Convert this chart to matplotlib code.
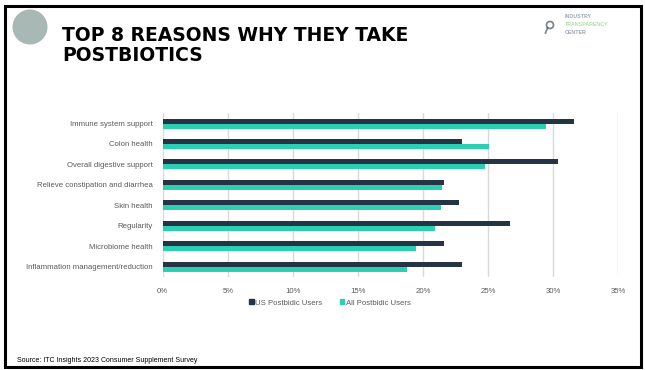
import matplotlib
matplotlib.use('Agg')
from matplotlib import pyplot as plt
from matplotlib.patches import Rectangle, Circle, Patch
from matplotlib.lines import Line2D

# survey results (% of respondents)
reasons = ['Immune system support', 'Colon health', 'Overall digestive support',
           'Relieve constipation and diarrhea', 'Skin health', 'Regularity',
           'Microbiome health', 'Inflammation management/reduction']
us_users = [31.6, 23.0, 30.4, 21.6, 22.75, 26.7, 21.6, 23.0]
all_users = [29.5, 25.1, 24.8, 21.5, 21.4, 20.9, 19.45, 18.75]
ticks = [0, 5, 10, 15, 20, 25, 30, 35]

DARK = '#243444'
GREEN = '#2ccfb2'
LABEL = '#595959'
W, H = 645, 370


def fx(px):
   return px / W


def fy(py):
   return 1 - py / H


def inch(px, py):
   # pixel position (from top-left) -> inches, for round shapes
   return px / 100, (H - py) / 100


def main():
   fig = plt.figure(figsize=(6.45, 3.7), dpi=100)
   fig.patch.set_facecolor('white')
   it = fig.dpi_scale_trans

   # frame + header decoration
   fig.patches.append(Rectangle((fx(4.5), fy(367)), fx(641) - fx(4.5), fy(5.5) - fy(367),
                                transform=fig.transFigure, fill=False, lw=2.2, ec='black'))
   fig.patches.append(Circle(inch(30, 27), 0.175, transform=it, fc='#a8b8b4', ec='none'))
   fig.text(fx(62), fy(41), 'TOP 8 REASONS WHY THEY TAKE', fontsize=13.5,
            fontweight='bold', family='DejaVu Sans', color='black')
   fig.text(fx(62), fy(61), 'POSTBIOTICS', fontsize=13.5,
            fontweight='bold', family='DejaVu Sans', color='black')

   # logo
   fig.patches.append(Circle(inch(550, 25), 0.035, transform=it,
                             fill=False, ec='#4a5560', lw=1.3, alpha=0.7))
   x0, y0 = inch(547.5, 28)
   x1, y1 = inch(545.5, 33)
   fig.lines.append(Line2D([x0, x1], [y0, y1], transform=it,
                           color='#4a5560', lw=1.3, alpha=0.7))
   fig.text(fx(565), fy(18), 'INDUSTRY', fontsize=3.8, fontweight='bold',
            color='#5a6a80', alpha=0.6, family='Liberation Sans')
   fig.text(fx(565), fy(26), 'TRANSPARENCY', fontsize=3.8, fontweight='bold',
            color='#7cc46a', alpha=0.6, family='Liberation Sans')
   fig.text(fx(565), fy(34), 'CENTER', fontsize=3.8, fontweight='bold',
            color='#5a6a80', alpha=0.6, family='Liberation Sans')

   ax = fig.add_axes([fx(162.7), fy(276.9), fx(618) - fx(162.7), fy(113.3) - fy(276.9)])
   h = 0.245
   pos = list(range(len(reasons)))
   ax.barh([p - h / 2 for p in pos], us_users, height=h, color=DARK, zorder=3)
   ax.barh([p + h / 2 for p in pos], all_users, height=h, color=GREEN, zorder=3)

   ax.set_ylim(len(reasons) - 0.5, -0.5)
   ax.set_xlim(0, 35)
   ax.set_xticks(ticks)
   ax.set_xticklabels([f'{t}%' for t in ticks])
   ax.set_yticks(pos)
   ax.set_yticklabels(reasons)
   ax.tick_params(length=0, labelsize=5.6, labelcolor=LABEL)
   ax.tick_params(axis='y', pad=7)
   ax.tick_params(axis='x', pad=8)
   for lab in ax.get_xticklabels() + ax.get_yticklabels():
      lab.set_family('Liberation Sans')
   for s in ax.spines.values():
      s.set_visible(False)
   ax.grid(axis='x', color='#d9d9d9', lw=1, zorder=0)
   ax.set_axisbelow(True)

   handles = [Patch(color=DARK, label='US Postbidic Users'),
              Patch(color=GREEN, label='All Postbidic Users')]
   fig.legend(handles=handles, loc='center', bbox_to_anchor=(fx(330), fy(303)), ncol=2,
              frameon=False, handlelength=0.6, handleheight=0.6, handletextpad=0.2,
              columnspacing=2.2, prop={'family': 'Liberation Sans', 'size': 5.6},
              labelcolor=LABEL)

   fig.text(fx(17), fy(362), 'Source: ITC Insights 2023 Consumer Supplement Survey',
            fontsize=5.0, color='black', family='Liberation Sans')

   fig.savefig('out.png', dpi=100)


if __name__ == "__main__":
   main()
